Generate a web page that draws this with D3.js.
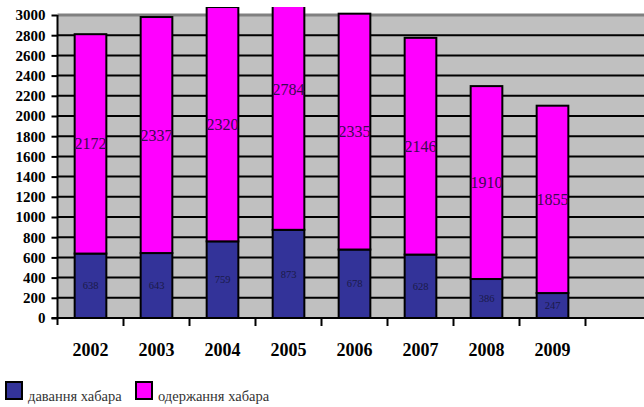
<!DOCTYPE html>
<html>
<head>
<meta charset="utf-8">
<script src="https://cdn.jsdelivr.net/npm/d3@7"></script>
<style>
  html, body { margin: 0; padding: 0; background: #ffffff; }
  svg { display: block; }
  svg text { font-family: "Liberation Serif", "Times New Roman", serif; }
</style>
</head>
<body>
<svg id="chart" width="644" height="407"></svg>
<script>
// Years on the category axis (the last band is left empty)
const years = ["2002", "2003", "2004", "2005", "2006", "2007", "2008", "2009"];
const bands = [...years, ""];
// Bribe-giving cases (lower segment)
const giving = [638, 643, 759, 873, 678, 628, 386, 247];
// Bribe-taking cases (upper segment)
const taking = [2172, 2337, 2320, 2784, 2335, 2146, 1910, 1855];
const seriesNames = ["давання хабара", "одержання хабара"];
const seriesColors = ["#333399", "#ff00ff"];
const yTicks = d3.range(0, 3001, 200);

const svg = d3.select("#chart");
const plot = { left: 57.5, right: 644, top: 15, bottom: 318 };

const y = d3.scaleLinear().domain([0, 3000]).range([plot.bottom, plot.top]);
const xOuter = d3.scaleBand().domain(bands).range([plot.left, plot.left + 66 * bands.length]).padding(0);
const x = d3.scaleBand().domain(bands).range(xOuter.range()).paddingInner(0.52).paddingOuter(0.26);

const serif = "Liberation Serif";

// plot background
svg.append("rect")
  .attr("x", plot.left).attr("y", plot.top)
  .attr("width", plot.right - plot.left).attr("height", plot.bottom - plot.top)
  .attr("fill", "#c0c0c0");

// horizontal gridlines
svg.append("g").selectAll("line")
  .data(yTicks.filter(v => v > 0 && v < 3000))
  .join("line")
  .attr("x1", plot.left).attr("x2", plot.right)
  .attr("y1", d => y(d)).attr("y2", d => y(d))
  .attr("stroke", "#000").attr("stroke-width", 2);

// top border of the plot area
svg.append("line")
  .attr("x1", plot.left).attr("x2", plot.right)
  .attr("y1", y(3000)).attr("y2", y(3000))
  .attr("stroke", "#808080").attr("stroke-width", 3);

// stacked bars, clipped just above the plot area
svg.append("defs").append("clipPath").attr("id", "barclip")
  .append("rect").attr("x", 0).attr("y", 7).attr("width", 644).attr("height", 400);

const stackData = years.map((yr, i) => ({ year: yr, giving: giving[i], taking: taking[i] }));
const stacked = d3.stack().keys(["giving", "taking"])(stackData);

const barW = x.bandwidth();
const bars = svg.append("g").attr("clip-path", "url(#barclip)");
stacked.forEach((layer, si) => {
  bars.append("g").selectAll("rect")
    .data(layer)
    .join("rect")
    .attr("x", d => x(d.data.year))
    .attr("width", barW)
    .attr("y", d => y(d[1]))
    .attr("height", d => y(d[0]) - y(d[1]))
    .attr("fill", seriesColors[si])
    .attr("stroke", "#000")
    .attr("stroke-width", 2);
});

// value labels
svg.append("g").selectAll("text")
  .data(stacked[0])
  .join("text")
  .attr("x", d => x(d.data.year) + barW / 2)
  .attr("y", d => y((d[0] + d[1]) / 2))
  .attr("dy", "0.35em")
  .attr("text-anchor", "middle")
  .attr("font-family", serif).attr("font-size", 10.5)
  .attr("fill", "#1a1a48")
  .text(d => d.data.giving);

svg.append("g").selectAll("text")
  .data(stacked[1])
  .join("text")
  .attr("x", d => x(d.data.year) + barW / 2)
  .attr("y", d => y((d[0] + d[1]) / 2))
  .attr("dy", "0.35em")
  .attr("text-anchor", "middle")
  .attr("font-family", serif).attr("font-size", 16)
  .attr("fill", "#3c0a50")
  .text(d => d.data.taking);

// y axis
const yAxis = svg.append("g")
  .attr("transform", `translate(${plot.left},0)`)
  .call(d3.axisLeft(y).tickValues(yTicks).tickSize(6).tickPadding(6).tickFormat(d3.format("d")))
  .attr("font-family", serif);
yAxis.select(".domain").remove();
yAxis.selectAll(".tick line").attr("stroke", "#000").attr("stroke-width", 2);
yAxis.selectAll(".tick text")
  .attr("font-family", serif).attr("font-size", 15).attr("font-weight", "bold").attr("fill", "#000");
svg.append("line")
  .attr("x1", plot.left).attr("x2", plot.left)
  .attr("y1", plot.top).attr("y2", plot.bottom + 7)
  .attr("stroke", "#000").attr("stroke-width", 2);

// x axis: baseline, ticks on band boundaries, labels at band centres
svg.append("line")
  .attr("x1", plot.left - 6).attr("x2", plot.right)
  .attr("y1", plot.bottom).attr("y2", plot.bottom)
  .attr("stroke", "#000").attr("stroke-width", 2);
svg.append("g").selectAll("line")
  .data(bands.slice(1))
  .join("line")
  .attr("x1", d => xOuter(d)).attr("x2", d => xOuter(d))
  .attr("y1", plot.bottom).attr("y2", plot.bottom + 8)
  .attr("stroke", "#000").attr("stroke-width", 2);
svg.append("g").selectAll("text")
  .data(years)
  .join("text")
  .attr("x", d => xOuter(d) + xOuter.bandwidth() / 2)
  .attr("y", 356)
  .attr("text-anchor", "middle")
  .attr("font-family", serif).attr("font-size", 18).attr("font-weight", "bold")
  .text(d => d);

// legend
const legendX = [5, 135];
const lg = svg.append("g");
seriesNames.forEach((name, i) => {
  lg.append("rect")
    .attr("x", legendX[i] + 1).attr("y", 382)
    .attr("width", 16).attr("height", 17)
    .attr("fill", seriesColors[i]).attr("stroke", "#000").attr("stroke-width", 2);
  lg.append("text")
    .attr("x", legendX[i] + 23).attr("y", 401)
    .attr("font-family", serif).attr("font-size", 14.5)
    .attr("fill", "#333")
    .text(name);
});
</script>
</body>
</html>
